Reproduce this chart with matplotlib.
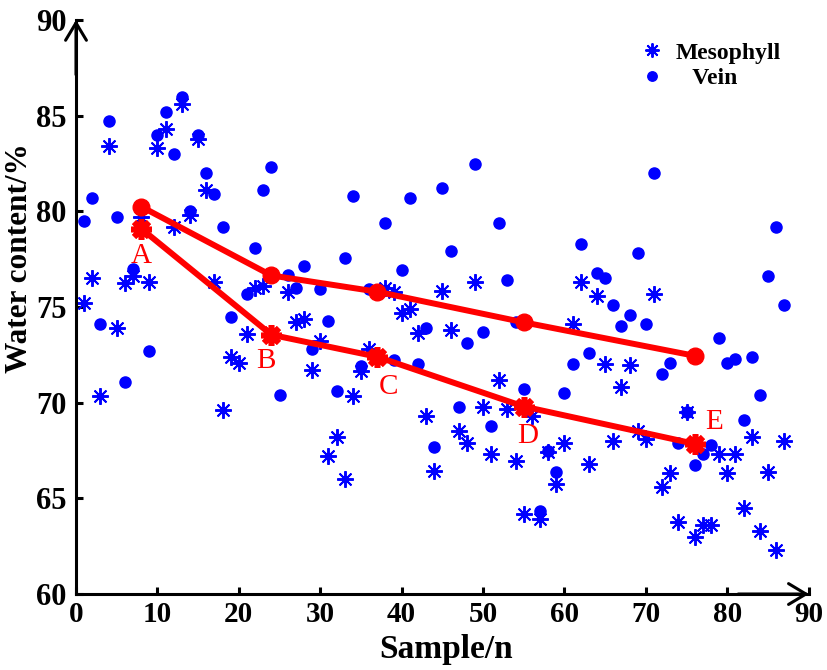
import matplotlib
matplotlib.use('Agg')
import matplotlib.pyplot as plt

# data
meso_x = [1, 2, 3, 4, 5, 6, 7, 8, 9, 10, 11, 12, 13, 14, 15, 16, 17, 18, 19, 20,
          21, 22, 23, 26, 27, 28, 29, 30, 31, 32, 33, 34, 35, 36, 38, 39, 40, 41,
          42, 43, 44, 45, 46, 47, 48, 49, 50, 51, 52, 53, 54, 55, 56, 57, 58, 59,
          60, 61, 62, 63, 64, 65, 66, 67, 68, 69, 70, 71, 72, 73, 74, 75, 76, 77,
          78, 79, 80, 81, 82, 83, 84, 85, 86, 87]
meso_y = [75.2, 76.5, 70.35, 83.4, 73.9, 76.25, 76.6, 79.7, 76.3, 83.3, 84.3, 79.2,
          85.6, 79.8, 83.8, 81.1, 76.3, 69.6, 72.4, 72.1, 73.6, 76.0, 76.1, 75.8,
          74.2, 74.4, 71.7, 73.2, 67.2, 68.2, 66.0, 70.35, 71.65, 72.8, 76.0, 75.8,
          74.7, 74.9, 73.65, 69.3, 66.45, 75.85, 73.8, 68.5, 67.9, 76.3, 69.8, 67.3,
          71.2, 69.65, 66.95, 64.2, 69.3, 63.9, 67.4, 65.75, 67.9, 74.1, 76.3, 66.8,
          75.6, 72.0, 68.0, 70.8, 71.95, 68.5, 68.1, 75.7, 65.6, 66.35, 63.75, 69.5,
          63.0, 63.6, 63.6, 67.3, 66.3, 67.3, 64.5, 68.2, 63.3, 66.4, 62.3, 68.0]

vein_x = [1, 2, 3, 4, 5, 6, 7, 9, 10, 11, 12, 13, 14, 15, 16, 17, 18, 19, 21, 22,
          23, 24, 25, 26, 27, 28, 29, 30, 31, 32, 33, 34, 35, 36, 38, 39, 40, 41,
          42, 43, 44, 45, 46, 47, 48, 49, 50, 51, 52, 53, 54, 55, 57, 58, 59, 60,
          61, 62, 63, 64, 65, 66, 67, 68, 69, 70, 71, 72, 73, 74, 75, 76, 77, 78,
          79, 80, 81, 82, 83, 84, 85, 86, 87]
vein_y = [79.5, 80.7, 74.1, 84.7, 79.7, 71.1, 77.0, 72.7, 84.0, 85.2, 83.0, 86.0,
          80.0, 84.0, 82.0, 80.9, 79.2, 74.5, 75.7, 78.1, 81.1, 82.3, 70.4, 76.7,
          76.0, 77.15, 72.8, 75.95, 74.25, 70.6, 77.55, 80.8, 71.9, 75.95, 79.4,
          72.25, 76.95, 80.7, 72.0, 73.9, 67.7, 81.2, 77.95, 69.8, 73.1, 82.5, 73.7,
          68.8, 79.4, 76.4, 74.2, 70.7, 64.35, 67.45, 66.4, 70.5, 72.0, 78.3, 72.6,
          76.8, 76.5, 75.1, 74.0, 74.6, 77.8, 74.1, 82.0, 71.5, 72.1, 67.9, 69.5,
          66.75, 67.3, 67.8, 73.4, 72.05, 72.3, 69.1, 72.4, 70.4, 76.6, 79.2, 75.1]

# red trend lines
line_x = [8, 24, 37, 55, 76]
upper_y = [80.25, 76.65, 75.8, 74.2, 72.45]
lower_y = [79.1, 73.55, 72.4, 69.8, 67.85]
point_labels = ['A', 'B', 'C', 'D', 'E']
label_offsets = [(0, -20), (-4, -19), (8, -22), (3, -21), (14, 16)]  # points

plt.rcParams['font.family'] = ['Liberation Serif', 'DejaVu Serif']
plt.rcParams['font.weight'] = 'bold'

fig = plt.figure(figsize=(8.27, 6.70), dpi=100)
ax = fig.add_axes([0.0919, 0.1134, 0.886, 0.8567])

ax.plot(meso_x, meso_y, linestyle='none', marker=(8, 2, 0), markersize=12,
        markeredgewidth=1.4, color='#0000FF', label='Mesophyll')
ax.plot(vein_x, vein_y, linestyle='none', marker='o', markersize=8,
        color='#0000FF', label='   Vein')

ax.plot(line_x, upper_y, '-o', color='#FF0000', linewidth=4.3, markersize=12)
ax.plot(line_x, lower_y, '-o', color='#FF0000', linewidth=4.3, markersize=11)
ax.plot(line_x, lower_y, linestyle='none', marker=(8, 2, 0), color='#FF0000',
        markersize=15, markeredgewidth=4)

for x, y, lab, off in zip(line_x, lower_y, point_labels, label_offsets):
    ax.annotate(lab, xy=(x, y), xytext=off, textcoords='offset points',
                ha='center', va='center', color='#FF0000', fontsize=21,
                fontweight='normal')

ax.set_xlim(0, 90)
ax.set_ylim(60, 90)
ax.set_xticks(range(0, 91, 10))
ax.set_yticks(range(60, 91, 5))

ax.spines['top'].set_visible(False)
ax.spines['right'].set_visible(False)
ax.spines['left'].set_linewidth(2.2)
ax.spines['bottom'].set_linewidth(2.2)
ax.tick_params(direction='in', length=5, width=2.2)
ax.tick_params(axis='x', labelsize=21, pad=5)
ax.tick_params(axis='y', labelsize=22, pad=7)

# arrow heads on the axes
ax.annotate('', xy=(0, 1.005), xytext=(0, 0.9), xycoords='axes fraction',
            arrowprops=dict(arrowstyle='->,head_length=0.5,head_width=0.3',
                            lw=2.2, color='black', mutation_scale=25))
ax.annotate('', xy=(1.004, 0), xytext=(0.9, 0), xycoords='axes fraction',
            arrowprops=dict(arrowstyle='->,head_length=0.5,head_width=0.3',
                            lw=2.2, color='black', mutation_scale=25))

ax.set_xlabel('Sample/n', fontsize=24, fontweight='bold')
ax.set_ylabel('Water content/%', fontsize=22.5, fontweight='bold')
ax.xaxis.set_label_coords(0.505, -0.0697)
ax.yaxis.set_label_coords(-0.057, 0.585)

ax.legend(loc='upper left', bbox_to_anchor=(640 / 827, 0.937),
          bbox_transform=fig.transFigure, frameon=False, fontsize=17,
          handlelength=1, handletextpad=0.5, borderpad=0, borderaxespad=0,
          labelspacing=0.15, markerscale=0.85)

plt.savefig('out.png', dpi=100)
